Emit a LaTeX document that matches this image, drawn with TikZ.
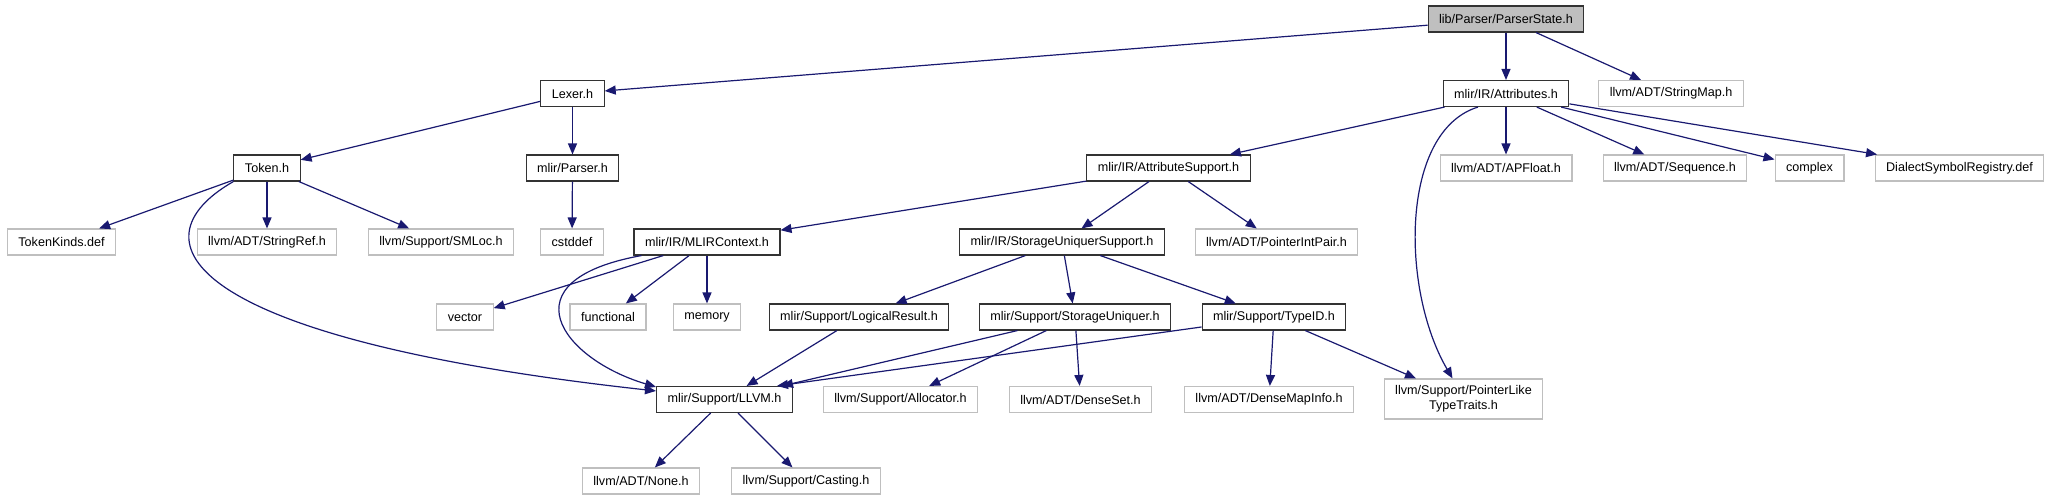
\documentclass[tikz,border=0pt]{standalone}
\usepackage{fontspec}
\setmainfont{Liberation Sans}
\usetikzlibrary{arrows.meta}
\definecolor{navy}{HTML}{191970}
\definecolor{lgray}{HTML}{BFBFBF}
\begin{document}
\begin{tikzpicture}[x=1pt, y=-1pt,
  f/.style={draw, line width=1.1pt, font=\fontsize{12.6}{15}\selectfont, inner xsep=11pt, inner ysep=2pt, minimum height=26pt},
  doc/.style={f, draw=black!80},
  ext/.style={f, draw=lgray},
  top/.style={doc, fill=lgray},
  d/.style={->, draw=navy, line width=1.2pt},
  >={Triangle[length=11pt,width=9pt]}]
\useasboundingbox (0,0) rectangle (2054,500);
% rows of the include graph
\node[top] (root) at (1506,19) {lib/Parser/ParserState.h};
\node[doc] (lexer) at (572.5,93.5) {Lexer.h};
\node[doc] (attr) at (1506,93.5) {mlir/IR/Attributes.h};
\node[ext] (smap) at (1671,93.5) {llvm/ADT/StringMap.h};
\node[doc] (token) at (267,168) {Token.h};
\node[doc] (mparser) at (572.5,168) {mlir/Parser.h};
\node[doc] (attrsup) at (1168.5,168) {mlir/IR/AttributeSupport.h};
\node[ext] (apfloat) at (1506,168) {llvm/ADT/APFloat.h};
\node[ext] (seq) at (1675,168) {llvm/ADT/Sequence.h};
\node[ext] (cplx) at (1809.5,168) {complex};
\node[ext] (dsr) at (1959.5,168) {DialectSymbolRegistry.def};
\node[ext] (tkinds) at (61.5,242) {TokenKinds.def};
\node[ext] (sref) at (267,242) {llvm/ADT/StringRef.h};
\node[ext] (smloc) at (441,242) {llvm/Support/SMLoc.h};
\node[ext] (cstd) at (572,242) {cstddef};
\node[doc] (ctx) at (707,242) {mlir/IR/MLIRContext.h};
\node[doc] (sus) at (1062,242) {mlir/IR/StorageUniquerSupport.h};
\node[ext] (pip) at (1276.5,242) {llvm/ADT/PointerIntPair.h};
\node[ext] (vec) at (465,317) {vector};
\node[ext] (func) at (608,317) {functional};
\node[ext] (mem) at (707,317) {memory};
\node[doc] (lres) at (859,317) {mlir/Support/LogicalResult.h};
\node[doc] (su) at (1075,317) {mlir/Support/StorageUniquer.h};
\node[doc] (tid) at (1274,317) {mlir/Support/TypeID.h};
\node[doc] (llvm) at (724.5,399.5) {mlir/Support/LLVM.h};
\node[ext] (alloc) at (900.5,399.5) {llvm/Support/Allocator.h};
\node[ext] (dset) at (1080.5,399.5) {llvm/ADT/DenseSet.h};
\node[ext] (dmi) at (1269,399.5) {llvm/ADT/DenseMapInfo.h};
\node[ext, align=center, minimum height=40pt] (plt) at (1463.5,399) {llvm/Support/PointerLike\\TypeTraits.h};
\node[ext] (none) at (641,481) {llvm/ADT/None.h};
\node[ext] (cast) at (806,481) {llvm/Support/Casting.h};
% dependencies
\foreach \a/\b in {root/lexer, root/attr, root/smap, lexer/token, lexer/mparser, mparser/cstd,
  token/tkinds, token/sref, token/smloc, attr/attrsup, attr/apfloat, attr/seq, attr/cplx, attr/dsr,
  attrsup/ctx, attrsup/sus, attrsup/pip, ctx/vec, ctx/func, ctx/mem, sus/lres, sus/su, sus/tid,
  lres/llvm, su/llvm, su/alloc, su/dset, tid/dmi, tid/plt, llvm/none, llvm/cast}
  \draw[d] (\a) -- (\b);
\draw[d] (tid) -- ([xshift=-16pt]llvm.north east);
\draw[d] (token.south west) .. controls +(-103,59) and +(-474,-52) .. ([yshift=-5pt]llvm.north west);
\draw[d] ([xshift=8pt]ctx.south west) .. controls +(-138,25) and +(-94,-28) .. ([yshift=-1pt]llvm.north west);
\draw[d] ([xshift=-28pt]attr.south) .. controls +(-78,24) and +(-52,-89) .. ([xshift=-11pt]plt.north);
\end{tikzpicture}
\end{document}
